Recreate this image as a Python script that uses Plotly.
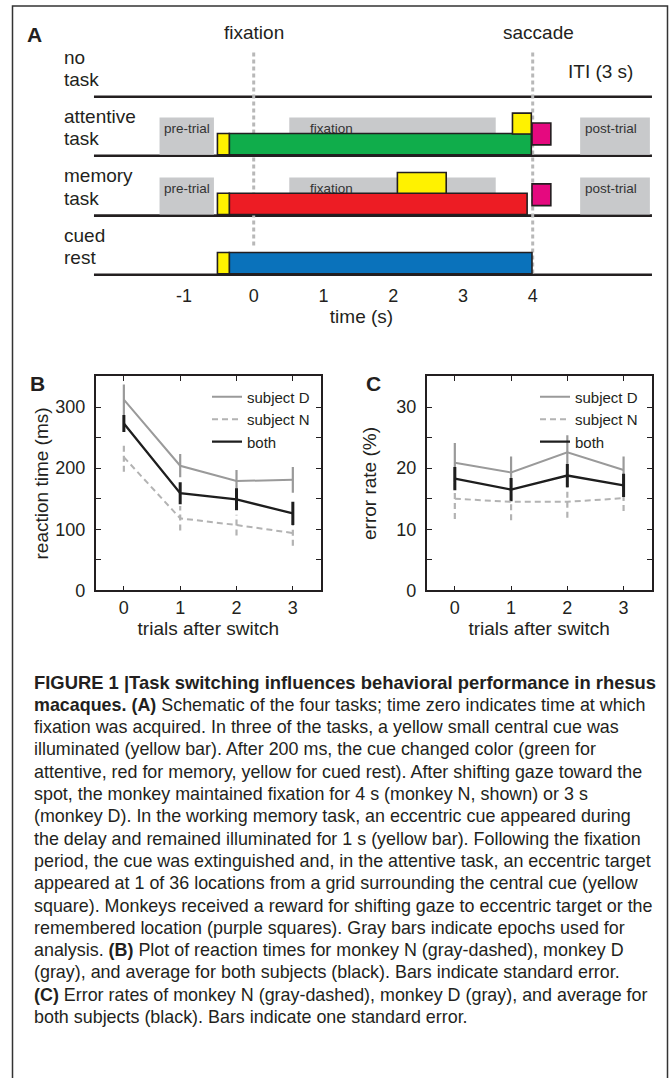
import plotly.graph_objects as go

W, H = 671, 1078
FONT = "Liberation Sans, Arial, Helvetica, sans-serif"
INK = "#231f20"

def px(x):
    return x / W

def py(y):
    return 1 - y / H

# ---------------- Panel A data (seconds) ----------------
row_names = ["no task", "attentive task", "memory task", "cued rest"]
row_label_lines = [["no", "task"], ["attentive", "task"], ["memory", "task"], ["cued", "rest"]]
task_colors = [None, "#10ad4b", "#ed1c24", "#0a72bb"]
cue_on = [None, -0.52, -0.52, -0.52]
cue_change = [None, -0.35, -0.35, -0.35]
task_end = [None, 3.98, 3.92, 3.99]
has_epochs = [False, True, True, False]
pre_trial = [-1.35, -0.57]
fixation_epoch = [0.51, 3.47]
post_trial = [4.68, 5.68]
attentive_target = [3.71, 3.98]
memory_cue = [2.06, 2.76]
reward_attentive = [3.99, 4.26]
reward_memory = [3.99, 4.26]
event_times = [0, 4]
event_names = ["fixation", "saccade"]
time_ticks = [-1, 0, 1, 2, 3, 4]
line_start, line_end = -2.29, 5.71

# ---------------- Panel B / C data ----------------
trials = [0, 1, 2, 3]
rt_D = [312, 204, 179, 181]
rt_D_se = [25, 19, 18, 21]
rt_N = [218, 118, 107, 94]
rt_N_se = [24, 20, 17, 21]
rt_both = [273, 159, 149, 126]
rt_both_se = [14, 18, 18, 19]

err_D = [20.9, 19.3, 22.6, 19.7]
err_D_se = [3.2, 2.6, 2.8, 2.2]
err_N = [15.0, 14.5, 14.5, 15.1]
err_N_se = [3.3, 3.0, 2.6, 2.1]
err_both = [18.3, 16.5, 18.8, 17.2]
err_both_se = [1.9, 1.9, 1.9, 1.9]

caption_lines = [
    "<b>FIGURE 1 |Task switching influences behavioral performance in rhesus</b>",
    "<b>macaques. (A)</b> Schematic of the four tasks; time zero indicates time at which",
    "fixation was acquired. In three of the tasks, a yellow small central cue was",
    "illuminated (yellow bar). After 200 ms, the cue changed color (green for",
    "attentive, red for memory, yellow for cued rest). After shifting gaze toward the",
    "spot, the monkey maintained fixation for 4 s (monkey N, shown) or 3 s",
    "(monkey D). In the working memory task, an eccentric cue appeared during",
    "the delay and remained illuminated for 1 s (yellow bar). Following the fixation",
    "period, the cue was extinguished and, in the attentive task, an eccentric target",
    "appeared at 1 of 36 locations from a grid surrounding the central cue (yellow",
    "square). Monkeys received a reward for shifting gaze to eccentric target or the",
    "remembered location (purple squares). Gray bars indicate epochs used for",
    "analysis. <b>(B)</b> Plot of reaction times for monkey N (gray-dashed), monkey D",
    "(gray), and average for both subjects (black). Bars indicate standard error.",
    "<b>(C)</b> Error rates of monkey N (gray-dashed), monkey D (gray), and average for",
    "both subjects (black). Bars indicate one standard error.",
]

# ---------------- layout geometry ----------------
T0_PX, PX_PER_S = 253.7, 69.75
A_LEFT = 52
A_BOTTOM = 286
baselines = [97.7, 157.2, 217.6, 277.3]

fig = go.Figure()
shapes = []
annotations = []

# baselines (task rows)
for b in baselines:
    fig.add_trace(go.Scatter(x=[line_start, line_end], y=[b, b], mode="lines",
                             line=dict(color=INK, width=2.6), xaxis="x", yaxis="y",
                             showlegend=False, hoverinfo="skip"))
# event dotted lines
event_bottoms = [250, 277]
for t, yb in zip(event_times, event_bottoms):
    fig.add_trace(go.Scatter(x=[t, t], y=[53, yb], mode="lines",
                             line=dict(color="#b8b8b8", width=3, dash="4px,3px"),
                             xaxis="x", yaxis="y", showlegend=False, hoverinfo="skip"))

GRAY = "#c8c9cb"
def rect(x0, x1, y0, y1, fill, lw=1.6):
    shapes.append(dict(type="rect", xref="x", yref="y", x0=x0, x1=x1, y0=y0, y1=y1,
                       fillcolor=fill, line=dict(color=INK, width=lw) if lw else dict(width=0),
                       layer="above"))

for i, b in enumerate(baselines):
    if has_epochs[i]:
        for (a0, a1) in (pre_trial, fixation_epoch, post_trial):
            rect(a0, a1, b - 38.5, b - 1, GRAY, lw=0)
for i, b in enumerate(baselines):
    if task_colors[i] is None:
        continue
    top = b - 22.5
    rect(cue_change[i], task_end[i], top, b - 1, task_colors[i])
    rect(cue_on[i], cue_change[i], top, b - 1, "#fff200")
rect(attentive_target[0], attentive_target[1], baselines[1] - 43, baselines[1] - 22, "#fff200")
rect(reward_attentive[0], reward_attentive[1], baselines[1] - 33, baselines[1] - 11, "#e5097f")
rect(memory_cue[0], memory_cue[1], baselines[2] - 43.5, baselines[2] - 22.5, "#fff200")
rect(reward_memory[0], reward_memory[1], baselines[2] - 32, baselines[2] - 10, "#e5097f")

# epoch labels
for i, b in enumerate(baselines):
    if has_epochs[i]:
        for (a, lab) in ((pre_trial, "pre-trial"), (fixation_epoch, "fixation"), (post_trial, "post-trial")):
            xs = a[0] + (0.04 if lab != "fixation" else 0.27)
            annotations.append(dict(xref="x", yref="y", x=xs, y=b - 27, text=lab, showarrow=False,
                                    xanchor="left", yanchor="middle",
                                    font=dict(family=FONT, size=13.5, color="#333333")))

# row labels
for lines, b in zip(row_label_lines, baselines):
    for k, ln in enumerate(lines):
        annotations.append(dict(xref="paper", yref="y", x=px(62), y=b - 40 + 22.5 * k, text=ln,
                                showarrow=False, xanchor="left", yanchor="middle",
                                font=dict(family=FONT, size=19, color=INK)))
# event names
for t, name, sh in zip(event_times, event_names, [0, 6]):
    annotations.append(dict(xref="x", yref="y", x=t, y=33, text=name, showarrow=False,
                            xanchor="center", yanchor="middle", xshift=sh,
                            font=dict(family=FONT, size=19, color=INK)))
annotations.append(dict(xref="paper", yref="paper", x=px(566), y=py(72), text="ITI (3 s)",
                        showarrow=False, xanchor="left", yanchor="middle",
                        font=dict(family=FONT, size=19, color=INK)))

# ---------------- Panel B / C ----------------
D_COL, N_COL, B_COL = "#9a9a9a", "#b3b3b3", "#1e1e1e"

def err_segments(xv, yv, se):
    xs, ys = [], []
    for x, y, s in zip(xv, yv, se):
        xs += [x, x, None]
        ys += [y - s, y + s, None]
    return xs, ys

def add_panel(xa, ya, leg, D, Dse, N, Nse, Bo, Bose):
    series = [("subject D", D, Dse, D_COL, "solid", 2.0, 2.2),
              ("subject N", N, Nse, N_COL, "6px,4px", 2.0, 2.2),
              ("both", Bo, Bose, B_COL, "solid", 2.3, 3.0)]
    for name, v, se, c, d, w, ew in series:
        ex, ey = err_segments(trials, v, se)
        fig.add_trace(go.Scatter(x=ex, y=ey, mode="lines", xaxis=xa, yaxis=ya,
                                 line=dict(color=c, width=ew, dash=d), showlegend=False,
                                 hoverinfo="skip"))
    for name, v, se, c, d, w, ew in series:
        fig.add_trace(go.Scatter(x=trials, y=v, mode="lines", name=name, xaxis=xa, yaxis=ya,
                                 line=dict(color=c, width=w, dash=d), legend=leg))

add_panel("x2", "y2", "legend", rt_D, rt_D_se, rt_N, rt_N_se, rt_both, rt_both_se)
add_panel("x3", "y3", "legend2", err_D, err_D_se, err_N, err_N_se, err_both, err_both_se)

axis_common = dict(showline=True, linecolor=INK, linewidth=1.6, mirror="ticks", ticks="inside",
                   ticklen=5, tickwidth=1.2, tickcolor=INK, showgrid=False, zeroline=False,
                   tickfont=dict(family=FONT, size=18, color=INK))

pan_y_dom = [py(596), py(380)]
xaxis_bc = dict(axis_common, range=[-0.5, 3.5], tickvals=trials, ticktext=[str(t) for t in trials],
                title=dict(text="trials after switch", font=dict(family=FONT, size=19, color=INK), standoff=0))

rt_ticks = list(range(0, 351, 50))
er_ticks = list(range(0, 36, 5))

leg_common = dict(xanchor="left", yanchor="top", bgcolor="rgba(0,0,0,0)",
                  font=dict(family=FONT, size=15, color=INK), tracegroupgap=0, itemwidth=30)

fig.update_layout(
    width=W, height=H, margin=dict(l=0, r=0, t=0, b=0),
    paper_bgcolor="white", plot_bgcolor="white",
    font=dict(family=FONT, color=INK),
    xaxis=dict(domain=[px(A_LEFT), 1], range=[(A_LEFT - T0_PX) / PX_PER_S, (W - T0_PX) / PX_PER_S],
               showline=False, showgrid=False, zeroline=False, ticks="", tickvals=time_ticks,
               ticktext=[str(t) for t in time_ticks], tickfont=dict(family=FONT, size=18, color=INK),
               title=dict(text="time (s)", font=dict(family=FONT, size=19, color=INK), standoff=0),
               anchor="y"),
    yaxis=dict(domain=[py(A_BOTTOM), 1], range=[A_BOTTOM, 0], visible=False, anchor="x"),
    xaxis2=dict(xaxis_bc, domain=[px(95.7), px(321)], anchor="y2"),
    yaxis2=dict(axis_common, domain=pan_y_dom, range=[0, 350], anchor="x2", tickvals=rt_ticks,
                ticktext=[str(t) if t % 100 == 0 else "" for t in rt_ticks], ticklabelstandoff=5,
                title=dict(text="reaction time (ms)", font=dict(family=FONT, size=19, color=INK), standoff=2)),
    xaxis3=dict(xaxis_bc, domain=[px(426.7), px(651.7)], anchor="y3"),
    yaxis3=dict(axis_common, domain=pan_y_dom, range=[0, 35], anchor="x3", tickvals=er_ticks,
                ticktext=[str(t) if t % 10 == 0 else "" for t in er_ticks], ticklabelstandoff=5,
                title=dict(text="error rate (%)", font=dict(family=FONT, size=19, color=INK), standoff=15)),
    legend=dict(leg_common, x=px(207), y=py(384)),
    legend2=dict(leg_common, x=px(535), y=py(384)),
    showlegend=True,
)

# panel letters
for letter, x, y in (("A", 34, 35), ("B", 37, 387), ("C", 373, 387)):
    annotations.append(dict(xref="paper", yref="paper", x=px(x), y=py(y), text="<b>%s</b>" % letter,
                            showarrow=False, xanchor="center", yanchor="middle",
                            font=dict(family=FONT, size=21, color=INK)))

# caption (one text per printed line)
for k, ln in enumerate(caption_lines):
    annotations.append(dict(xref="paper", yref="paper", x=px(32), y=py(689 + 22.5 * k), text=ln,
                            showarrow=False, xanchor="left", yanchor="middle", align="left",
                            font=dict(family=FONT, size=18.4 if k == 0 else 17.9, color=INK)))

# outer frame
shapes.append(dict(type="rect", xref="paper", yref="paper", x0=px(12.5), x1=px(667.5), y0=-0.05, y1=py(6),
                   line=dict(color="#333333", width=1.5), fillcolor="rgba(0,0,0,0)", layer="below"))

fig.update_layout(shapes=shapes, annotations=annotations)
fig.write_html("out.html")
